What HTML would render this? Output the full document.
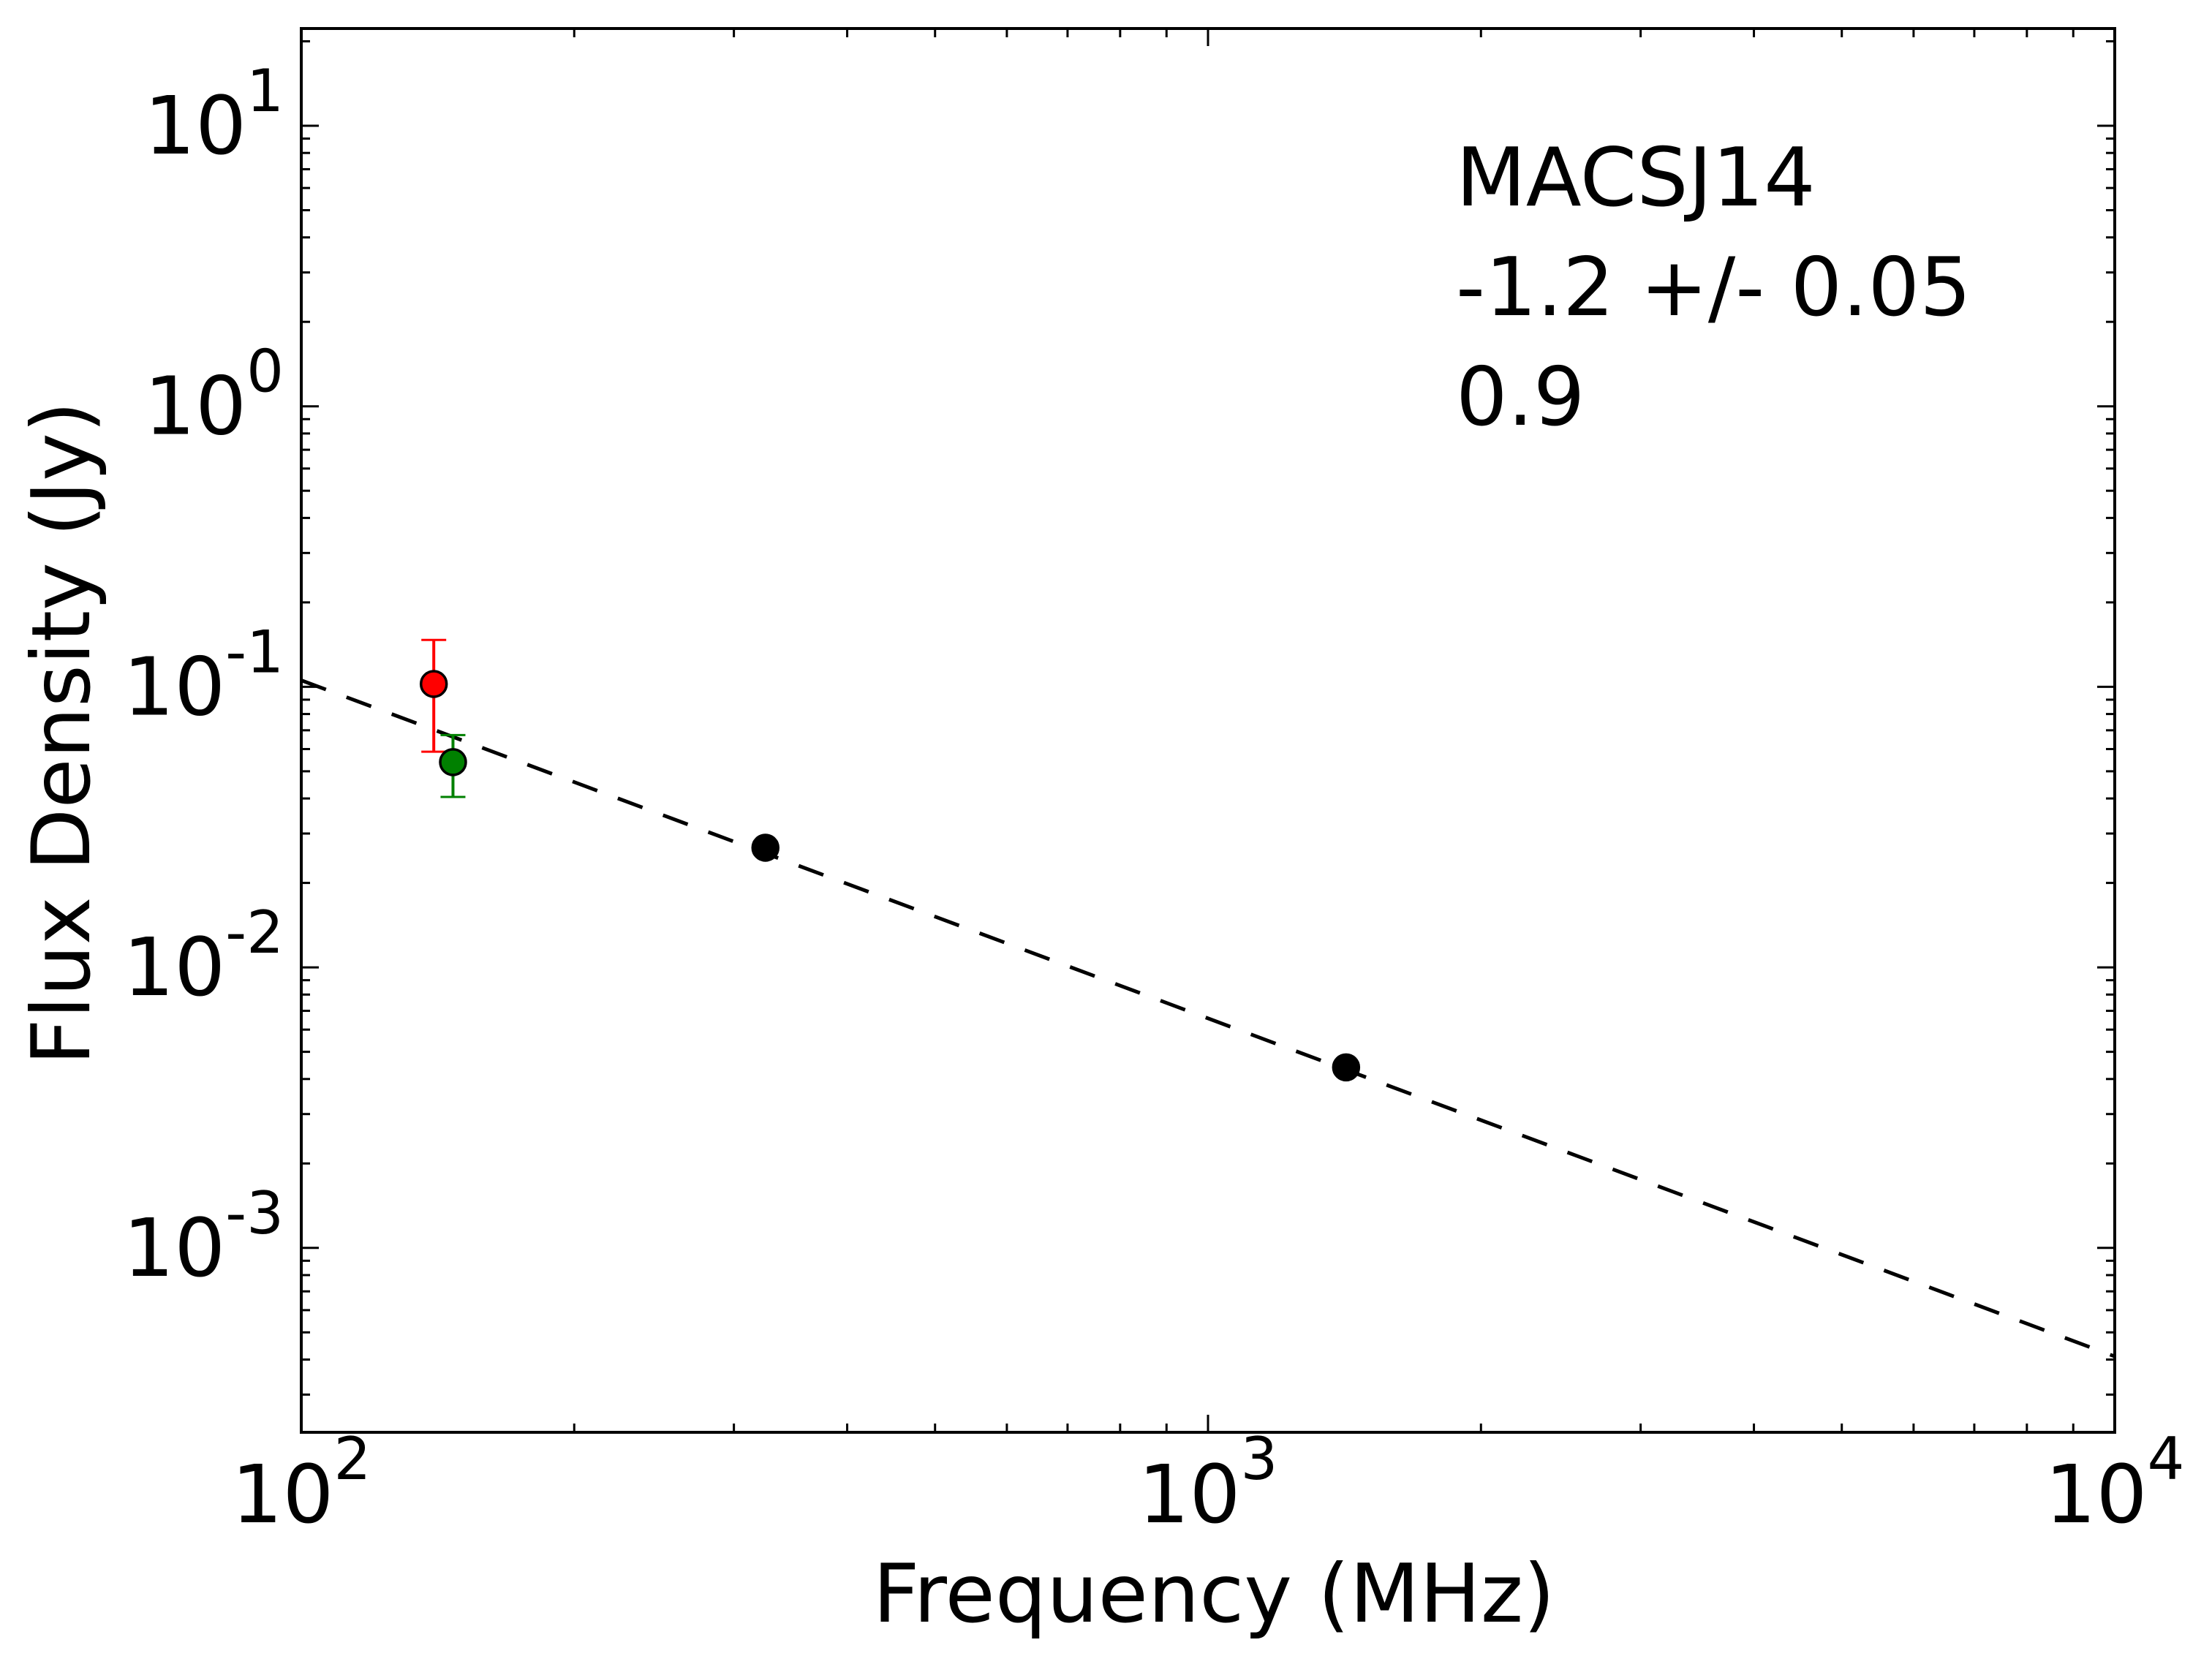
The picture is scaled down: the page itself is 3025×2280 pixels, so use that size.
<!DOCTYPE html>
<html>
<head>
<meta charset="utf-8">
<style>
html,body{margin:0;padding:0;background:#fff;}
svg{display:block;}
text{font-family:"DejaVu Sans","Liberation Sans",sans-serif;fill:#000;}
</style>
</head>
<body>
<svg id="chart" width="3025" height="2280" viewBox="0 0 3025 2280" xmlns="http://www.w3.org/2000/svg">
  <rect x="0" y="0" width="3025" height="2280" fill="#fff"/>
  <g id="ticks"></g>
  <g id="fit"></g>
  <g id="points"></g>
  <rect x="412" y="39" width="2480" height="1920" fill="none" stroke="#000" stroke-width="4"/>
  <g id="labels"></g>
  <text x="1660" y="2218" font-size="111" text-anchor="middle">Frequency (MHz)</text>
  <text x="122" y="1003" font-size="111" text-anchor="middle" transform="rotate(-90 122 1003)">Flux Density (Jy)</text>
  <text x="1991" y="281" font-size="111">MACSJ14</text>
  <text x="1991" y="431" font-size="111">-1.2 +/- 0.05</text>
  <text x="1991" y="581" font-size="111">0.9</text>
</svg>
<script>
const freqs = [140, 147, 325, 1420];
const fluxes = [0.1024, 0.0539, 0.0267, 0.0044];
const errLow = [0.0587, 0.0405, 0.0255, 0.0043];
const errHigh = [0.147, 0.0673, 0.0280, 0.0045];
const colors = ['#ff0000', '#008000', '#000000', '#000000'];
const fitAmp = [0.1055];
const fitSlope = [-1.205];
const xTickExps = [2, 3, 4];
const yTickExps = [-3, -2, -1, 0, 1];

const NS = 'http://www.w3.org/2000/svg';
const L = 412, R = 2892, T = 39, B = 1959;
function xPix(f){ return L + (Math.log10(f) - 2) * 1240; }
function yPix(v){ return 172 + (1 - Math.log10(v)) * 383.7; }
function mk(tag, attrs, parent){
  const e = document.createElementNS(NS, tag);
  for (const k in attrs) e.setAttribute(k, attrs[k]);
  parent.appendChild(e);
  return e;
}
const tickG = document.getElementById('ticks');
const labG = document.getElementById('labels');

for (let d = 2; d <= 4; d++) {
  for (let m = 1; m <= 9; m++) {
    if (d === 4 && m > 1) break;
    const x = xPix(m * Math.pow(10, d));
    const len = m === 1 ? 24 : 12;
    const t1 = mk('line', {x1:x, y1:B, x2:x, y2:B-len, stroke:'#000', 'stroke-width':3}, tickG);
    
    
    const t2 = mk('line', {x1:x, y1:T, x2:x, y2:T+len, stroke:'#000', 'stroke-width':3}, tickG);
    
    
  }
}
for (let d = -4; d <= 1; d++) {
  for (let m = 1; m <= 9; m++) {
    const v = m * Math.pow(10, d);
    const y = yPix(v);
    if (y < T + 1 || y > B - 1) continue;
    const len = m === 1 ? 24 : 12;
    const t1 = mk('line', {x1:L, y1:y, x2:L+len, y2:y, stroke:'#000', 'stroke-width':3}, tickG);
    
    
    const t2 = mk('line', {x1:R, y1:y, x2:R-len, y2:y, stroke:'#000', 'stroke-width':3}, tickG);
    
    
  }
}
xTickExps.forEach(e => {
  const x = xPix(Math.pow(10, e));
  const t = mk('text', {x:x, y:2082, 'font-size':110, 'text-anchor':'middle'}, labG);
  
  
  const a = document.createElementNS(NS, 'tspan'); a.textContent = '10'; t.appendChild(a);
  const b = document.createElementNS(NS, 'tspan'); b.setAttribute('font-size', 80); b.setAttribute('dy', -59); b.textContent = String(e); t.appendChild(b);
});
yTickExps.forEach(e => {
  const y = yPix(Math.pow(10, e));
  const t = mk('text', {x:388, y:y+38, 'font-size':110, 'text-anchor':'end'}, labG);
  
  
  const a = document.createElementNS(NS, 'tspan'); a.textContent = '10'; t.appendChild(a);
  const b = document.createElementNS(NS, 'tspan'); b.setAttribute('font-size', 80); b.setAttribute('dy', -58); b.textContent = (e < 0 ? '-' : '') + Math.abs(e); t.appendChild(b);
});
const fitG = document.getElementById('fit');
const f0 = 100, f1 = 10000;
const fl = mk('line', {x1:xPix(f0), y1:yPix(fitAmp[0]*Math.pow(f0/100, fitSlope[0])), x2:xPix(f1), y2:yPix(fitAmp[0]*Math.pow(f1/100, fitSlope[0])), stroke:'#000', 'stroke-width':5, 'stroke-dasharray':'36 30'}, fitG);


const pG = document.getElementById('points');
freqs.forEach((f, i) => {
  const x = xPix(f), yl = yPix(errLow[i]), yh = yPix(errHigh[i]);
  const eb = mk('line', {x1:x, y1:yl, x2:x, y2:yh, stroke:colors[i], 'stroke-width':4}, pG);
  
  
  [yl, yh].forEach(yy => {
    const c = mk('line', {x1:x-17, y1:yy, x2:x+17, y2:yy, stroke:colors[i], 'stroke-width':3}, pG);
    
    
  });
  const m = mk('circle', {cx:x, cy:yPix(fluxes[i]), r:17.5, fill:colors[i], stroke:'#000', 'stroke-width':3.5}, pG);
  
  
});
</script>
</body>
</html>
